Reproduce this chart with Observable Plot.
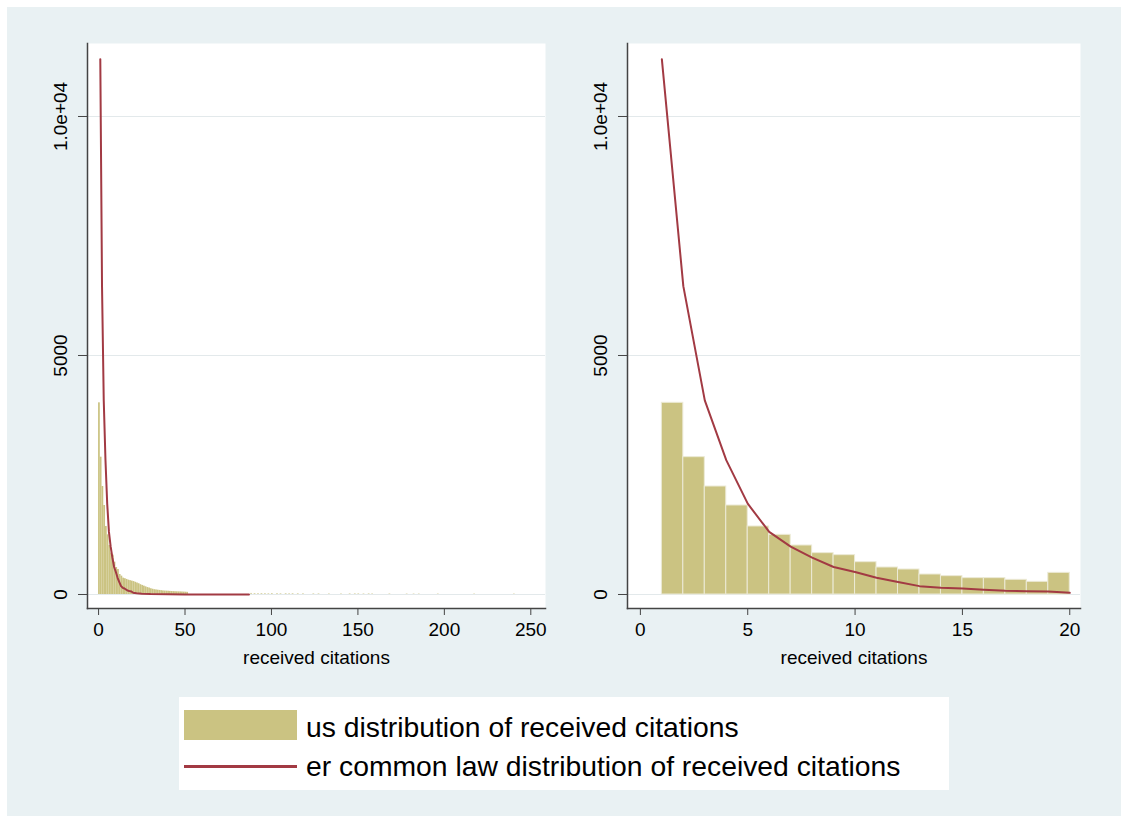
<!DOCTYPE html>
<html>
<head>
<meta charset="utf-8">
<script src="https://cdn.jsdelivr.net/npm/d3@7"></script>
<script src="https://cdn.jsdelivr.net/npm/@observablehq/plot@0.6"></script>
<style>
  html, body { margin: 0; padding: 0; background: #ffffff; }
  #page { position: relative; width: 1121px; height: 816px; overflow: hidden; }
  #bg { position: absolute; left: 7px; top: 7px; right: 0; bottom: 0; background: #e9f1f3; }
  .panel { position: absolute; top: 0; }
  #legend { position: absolute; left: 179px; top: 697px; width: 770px; height: 93px; background: #ffffff;
            font-family: "Liberation Sans", Arial, Helvetica, sans-serif; color: #000; }
  #legend .sw { position: absolute; left: 5px; top: 13px; width: 113px; height: 30px; background: #cbc382; }
  #legend .ln { position: absolute; left: 5px; top: 68px; width: 113px; height: 3px; background: #a23a43; }
  #legend .t { position: absolute; left: 127px; font-size: 28.3px; line-height: 32px; white-space: nowrap; }
</style>
</head>
<body>
<div id="page">
  <div id="bg"></div>
  <div id="left" class="panel" style="left:0px"></div>
  <div id="right" class="panel" style="left:560px"></div>
  <div id="legend">
    <div class="sw"></div>
    <div class="t" style="top:14px">us distribution of received citations</div>
    <div class="ln"></div>
    <div class="t" style="top:53px">er common law distribution of received citations</div>
  </div>
</div>
<script>
// ---- Data ----
// Right panel: histogram bins of width 1 starting at 1..19
const binStart = [1,2,3,4,5,6,7,8,9,10,11,12,13,14,15,16,17,18,19];
const binCount = [4010,2873,2259,1862,1423,1248,1025,865,823,676,565,523,418,384,342,342,307,265,453];

// Left panel: full distribution, bins of width 1 from 0
const leftStart = [0,1,2,3,4,5,6,7,8,9,10,11,12,13,14,15,16,17,18,19,20,21,22,23,24,25,26,27,28,29,30,31,32,33,34,35,36,37,38,39,40,41,42,43,44,45,46,47,48,49,50,51];
const leftCount = [4010,2873,2259,1862,1423,1248,1025,865,823,676,565,523,418,384,342,330,315,300,290,280,270,255,240,225,205,190,175,160,145,135,120,110,100,95,90,85,80,75,72,70,68,65,62,60,58,56,55,54,52,50,48,45];
// Sparse very small counts far in the tail
const sparseStart = [88,90,92,94,96,98,100,103,105,108,110,112,115,118,124,127,133,140,145,148,150,153,156,158,168,178,182,185,196,217,240];
const sparseCount = [22,20,18,20,18,16,20,18,16,18,15,18,16,15,14,14,12,12,14,14,14,12,14,12,12,10,10,10,10,10,10];

// Fitted "common law" distribution, evaluated at integer citation counts
const fitX = [1,2,3,4,5,6,7,8,9,10,11,12,13,14,15,16,17,18,19,20];
const fitY = [11200,6450,4060,2810,1900,1310,1000,770,575,470,350,260,175,140,125,100,78,70,62,35];
// Continuation of the fitted curve in the left panel
const fitTailX = [22,25,30,40,50,60,70,80,87];
const fitTailY = [25,15,8,3,1.5,0.8,0.5,0.3,0.2];

// Axis ticks
const yTicks = [0, 5000, 10000];
const yTickLabels = ["0", "5000", "1.0e+04"];
const xTicksLeft = [0, 50, 100, 150, 200, 250];
const xTicksRight = [0, 5, 10, 15, 20];
const xLabel = "received citations";

// ---- Build tables ----
const head = binStart.map((s, i) => ({x1: s, x2: s + 1, y: binCount[i]}));
const leftBins = leftStart.map((s, i) => ({x1: s, x2: s + 1, y: leftCount[i]}));
const sparse = sparseStart.map((s, i) => ({x1: s, x2: s + 1, y: sparseCount[i]}));
const fit = fitX.map((x, i) => ({x, y: fitY[i]}));
const fitFull = fit.concat(fitTailX.map((x, i) => ({x, y: fitTailY[i]})));

const FILL = "#cbc382";
const RED = "#a23a43";
const GRID = "#e3e9eb";
const AXIS = "#444";
const FONT = '"Liberation Sans", Arial, Helvetica, sans-serif';

function panel({width, marginLeft, marginRight, xDomain, xTicks, marks}) {
  return Plot.plot({
    width, height: 680,
    marginLeft, marginRight, marginTop: 43, marginBottom: 72,
    style: {background: "transparent", fontFamily: FONT, fontSize: "19px", color: "#000"},
    x: {domain: xDomain},
    y: {domain: [-293, 11527]},
    marks: [
      Plot.frame({fill: "white", stroke: null}),
      Plot.gridY(yTicks, {stroke: GRID, strokeOpacity: 1, strokeWidth: 1.2}),
      ...marks,
      Plot.axisY(yTicks, {
        tickFormat: (d) => yTickLabels[yTicks.indexOf(d)],
        tickRotate: -90, tickSize: 9, tickPadding: 12, stroke: AXIS, fontSize: 19, label: null
      }),
      Plot.axisX(xTicks, {tickSize: 7, tickPadding: 7, stroke: AXIS, fontSize: 19,
        label: xLabel, labelAnchor: "center", labelOffset: 55, labelArrow: "none"}),
      Plot.frame({anchor: "left", stroke: AXIS, strokeWidth: 1.5}),
      Plot.frame({anchor: "bottom", stroke: AXIS, strokeWidth: 1.5})
    ]
  });
}

const left = panel({
  width: 560, marginLeft: 87, marginRight: 15,
  xDomain: [-6.4, 258.5], xTicks: xTicksLeft,
  marks: [
    Plot.rectY(leftBins, {x1: "x1", x2: "x2", y: "y", fill: FILL, inset: 0}),
    Plot.rectY(sparse, {x1: "x1", x2: "x2", y: "y", fill: FILL, fillOpacity: 0.7, inset: 0}),
    Plot.line(fitFull, {x: "x", y: "y", stroke: RED, strokeWidth: 2})
  ]
});

const right = panel({
  width: 561, marginLeft: 67, marginRight: 41,
  xDomain: [-0.6, 20.5], xTicks: xTicksRight,
  marks: [
    Plot.rectY(head, {x1: "x1", x2: "x2", y: "y", fill: FILL, stroke: "#ecead6", strokeWidth: 1, inset: 0}),
    Plot.line(fit, {x: "x", y: "y", stroke: RED, strokeWidth: 2})
  ]
});

document.getElementById("left").appendChild(left);
document.getElementById("right").appendChild(right);
</script>
</body>
</html>
